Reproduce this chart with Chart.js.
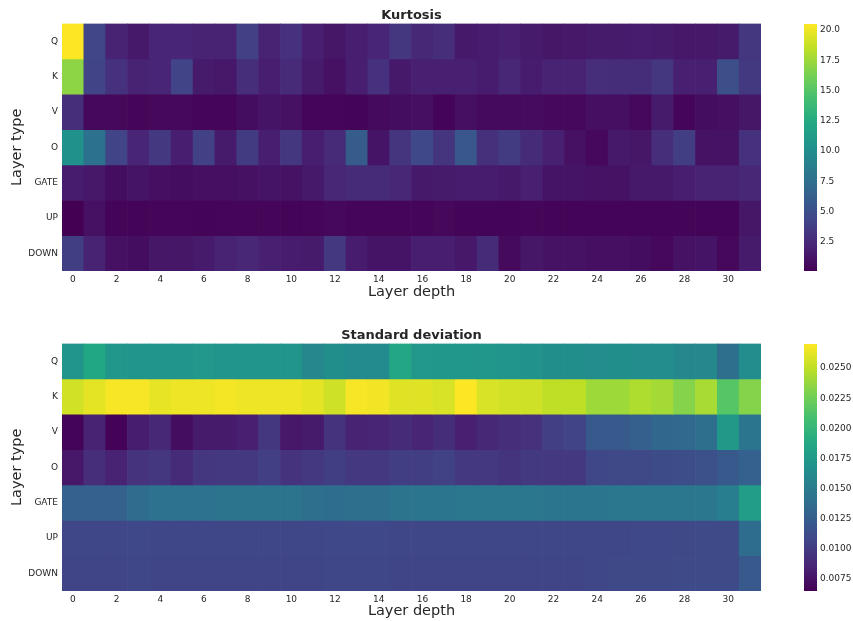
<!DOCTYPE html>
<html>
<head>
<meta charset="utf-8">
<script src="https://cdn.jsdelivr.net/npm/chart.js@4"></script>
<style>
  body { margin: 0; background: #fff; }
  #wrap { position: relative; width: 853px; height: 621px; }
  canvas { position: absolute; }
</style>
</head>
<body>
<div id="wrap">
  <canvas id="kurt" width="853" height="310" style="left:0;top:0;width:853px;height:310px"></canvas>
  <canvas id="kurtBar" width="63" height="310" style="left:790px;top:0;width:63px;height:310px"></canvas>
  <canvas id="std" width="853" height="311" style="left:0;top:310px;width:853px;height:311px"></canvas>
  <canvas id="stdBar" width="63" height="311" style="left:790px;top:310px;width:63px;height:311px"></canvas>
</div>
<script>
const layerTypes = ['Q', 'K', 'V', 'O', 'GATE', 'UP', 'DOWN'];
const layerDepth = Array.from({ length: 32 }, (_, i) => String(i));

// kurtosis, one array per layer type (depth 0..31)
const kurtQ    = [20.5, 4.3, 2.0, 1.5, 2.2, 2.2, 2.0, 2.0, 4.0, 2.0, 3.0, 1.8, 1.3, 1.8, 2.2, 3.3, 2.4, 2.8, 1.5, 1.7, 1.9, 1.6, 1.3, 1.4, 1.6, 1.6, 1.7, 1.6, 1.4, 1.4, 1.6, 3.3];
const kurtK    = [17.0, 4.2, 3.0, 2.0, 2.2, 4.2, 1.6, 1.4, 2.8, 1.8, 2.5, 1.6, 1.0, 1.8, 3.0, 1.5, 1.9, 1.9, 1.9, 1.7, 2.3, 1.7, 2.1, 2.1, 2.8, 2.7, 2.7, 3.3, 1.9, 1.9, 5.0, 3.5];
const kurtV    = [2.8, 0.5, 0.5, 0.4, 0.5, 0.5, 0.4, 0.4, 0.8, 1.2, 1.0, 0.4, 0.4, 0.3, 0.6, 0.8, 0.9, 0.3, 0.9, 0.6, 0.6, 0.7, 0.5, 0.5, 0.9, 0.9, 0.5, 1.6, 0.4, 0.8, 0.9, 1.3];
const kurtO    = [10.3, 7.8, 4.2, 2.2, 3.4, 1.8, 4.0, 1.6, 3.6, 1.8, 3.3, 1.8, 2.5, 6.0, 1.2, 3.2, 4.5, 3.2, 5.6, 2.9, 3.6, 2.6, 1.9, 1.0, 0.5, 1.5, 1.3, 2.8, 3.8, 1.1, 1.1, 3.0];
const kurtGate = [1.7, 1.4, 0.8, 1.2, 0.9, 0.8, 0.9, 0.9, 1.0, 1.2, 1.1, 1.5, 2.3, 2.6, 2.6, 2.3, 1.5, 1.6, 1.7, 1.7, 1.5, 1.9, 1.2, 1.2, 1.1, 1.1, 1.5, 1.5, 1.8, 2.0, 2.0, 2.3];
const kurtUp   = [0.1, 1.0, 0.3, 0.3, 0.4, 0.4, 0.3, 0.4, 0.4, 0.4, 0.3, 0.4, 0.5, 0.4, 0.4, 0.4, 0.4, 0.5, 0.3, 0.3, 0.3, 0.4, 0.3, 0.3, 0.3, 0.3, 0.3, 0.3, 0.3, 0.3, 0.3, 1.3];
const kurtDown = [3.8, 2.0, 1.0, 0.8, 1.3, 1.3, 1.6, 2.0, 2.3, 1.9, 1.7, 1.6, 3.4, 1.7, 1.2, 1.2, 1.8, 1.8, 1.4, 2.6, 0.6, 1.3, 1.1, 1.1, 0.9, 0.9, 0.8, 0.5, 1.1, 1.2, 0.5, 1.6];

// standard deviation
const stdQ    = [0.0170, 0.0187, 0.0172, 0.0170, 0.0170, 0.0170, 0.0174, 0.0170, 0.0170, 0.0170, 0.0170, 0.0160, 0.0165, 0.0162, 0.0162, 0.0186, 0.0174, 0.0172, 0.0172, 0.0172, 0.0170, 0.0168, 0.0165, 0.0165, 0.0163, 0.0165, 0.0163, 0.0163, 0.0160, 0.0160, 0.0140, 0.0163];
const stdK    = [0.0256, 0.0262, 0.0268, 0.0268, 0.0263, 0.0265, 0.0265, 0.0267, 0.0265, 0.0265, 0.0265, 0.0262, 0.0255, 0.0268, 0.0266, 0.0260, 0.0260, 0.0258, 0.0270, 0.0258, 0.0256, 0.0255, 0.0250, 0.0250, 0.0240, 0.0240, 0.0245, 0.0242, 0.0232, 0.0243, 0.0215, 0.0232];
const stdV    = [0.0067, 0.0085, 0.0066, 0.0082, 0.0088, 0.0072, 0.0080, 0.0080, 0.0083, 0.0097, 0.0078, 0.0080, 0.0095, 0.0085, 0.0086, 0.0090, 0.0086, 0.0091, 0.0083, 0.0088, 0.0092, 0.0094, 0.0103, 0.0106, 0.0122, 0.0122, 0.0127, 0.0133, 0.0134, 0.0140, 0.0175, 0.0145];
const stdO    = [0.0078, 0.0092, 0.0085, 0.0095, 0.0097, 0.0090, 0.0097, 0.0098, 0.0098, 0.0103, 0.0095, 0.0098, 0.0102, 0.0098, 0.0098, 0.0102, 0.0102, 0.0105, 0.0098, 0.0098, 0.0096, 0.0099, 0.0098, 0.0098, 0.0108, 0.0110, 0.0110, 0.0112, 0.0113, 0.0115, 0.0122, 0.0128];
const stdGate = [0.0128, 0.0128, 0.0128, 0.0137, 0.0142, 0.0142, 0.0142, 0.0143, 0.0143, 0.0143, 0.0143, 0.0140, 0.0138, 0.0140, 0.0140, 0.0143, 0.0145, 0.0145, 0.0146, 0.0146, 0.0146, 0.0146, 0.0145, 0.0145, 0.0145, 0.0146, 0.0146, 0.0146, 0.0146, 0.0146, 0.0152, 0.0178];
const stdUp   = [0.0108, 0.0108, 0.0108, 0.0109, 0.0108, 0.0108, 0.0108, 0.0108, 0.0108, 0.0108, 0.0108, 0.0108, 0.0109, 0.0109, 0.0109, 0.0108, 0.0108, 0.0108, 0.0108, 0.0108, 0.0108, 0.0108, 0.0108, 0.0108, 0.0108, 0.0108, 0.0109, 0.0109, 0.0110, 0.0111, 0.0111, 0.0138];
const stdDown = [0.0107, 0.0107, 0.0107, 0.0108, 0.0107, 0.0107, 0.0107, 0.0107, 0.0107, 0.0107, 0.0107, 0.0107, 0.0108, 0.0108, 0.0108, 0.0107, 0.0107, 0.0107, 0.0107, 0.0107, 0.0107, 0.0107, 0.0107, 0.0107, 0.0108, 0.0110, 0.0110, 0.0110, 0.0111, 0.0111, 0.0111, 0.0122];

const kurtTicks = [2.5, 5.0, 7.5, 10.0, 12.5, 15.0, 17.5, 20.0];
const stdTicks = [0.0075, 0.0100, 0.0125, 0.0150, 0.0175, 0.0200, 0.0225, 0.0250];

const kurtRows = [kurtQ, kurtK, kurtV, kurtO, kurtGate, kurtUp, kurtDown];
const stdRows = [stdQ, stdK, stdV, stdO, stdGate, stdUp, stdDown];

// viridis colour stops
const viridis = ['#440154', '#482475', '#414487', '#355f8d', '#2a788e', '#21918c', '#22a884', '#44bf70', '#7ad151', '#bddf26', '#fde725'];

function hexRgb(h) {
  return [parseInt(h.slice(1, 3), 16), parseInt(h.slice(3, 5), 16), parseInt(h.slice(5, 7), 16)];
}

function colorAt(f) {
  f = Math.max(0, Math.min(1, f));
  const p = f * (viridis.length - 1);
  const i = Math.min(Math.floor(p), viridis.length - 2);
  const t = p - i;
  const a = hexRgb(viridis[i]), b = hexRgb(viridis[i + 1]);
  const c = a.map((v, k) => Math.round(v + (b[k] - v) * t));
  return `rgb(${c[0]},${c[1]},${c[2]})`;
}

const textColor = '#262626';
const font = 'DejaVu Sans';
const noGrid = { display: false, drawTicks: false };

function heatmap(id, title, rows, vmin, vmax, padTop, padBottom, axisH) {
  const datasets = rows.map((vals, r) => ({
    data: vals.map(() => [r, r + 1]),
    backgroundColor: vals.map(v => colorAt((v - vmin) / (vmax - vmin))),
    borderWidth: 0,
    grouped: false,
    barPercentage: 1,
    categoryPercentage: 1
  }));

  new Chart(document.getElementById(id), {
    type: 'bar',
    data: { labels: layerDepth, datasets },
    options: {
      responsive: false,
      animation: false,
      layout: { padding: { left: 9, right: 92, top: padTop, bottom: padBottom } },
      plugins: {
        legend: { display: false },
        tooltip: { enabled: false },
        title: {
          display: true,
          text: title,
          fullSize: false,
          color: textColor,
          font: { family: font, size: 13, weight: 'bold' },
          padding: { top: 8, bottom: 0 }
        }
      },
      scales: {
        x: {
          grid: noGrid,
          border: { display: false },
          ticks: {
            autoSkip: false,
            maxRotation: 0,
            padding: 3,
            color: textColor,
            font: { family: font, size: 9 },
            callback: (v, i) => (i % 2 === 0 ? layerDepth[i] : '')
          },
          title: {
            display: true,
            text: 'Layer depth',
            color: textColor,
            font: { family: font, size: 14.5 },
            padding: { top: 0, bottom: 1 }
          },
          afterFit: s => { s.height = axisH; }
        },
        y: {
          type: 'linear',
          min: 0,
          max: layerTypes.length,
          reverse: true,
          grid: noGrid,
          border: { display: false },
          afterBuildTicks: s => { s.ticks = layerTypes.map((_, i) => ({ value: i + 0.5 })); },
          ticks: {
            padding: 4,
            color: textColor,
            font: { family: font, size: 9 },
            callback: (v, i) => layerTypes[i]
          },
          title: {
            display: true,
            text: 'Layer type',
            color: textColor,
            font: { family: font, size: 14.5 },
            padding: 0
          },
          afterFit: s => { s.width = 53; }
        }
      }
    }
  });
}

function colorbar(id, vmin, vmax, ticks, digits, padTop, padBottom) {
  new Chart(document.getElementById(id), {
    type: 'bar',
    data: {
      labels: [''],
      datasets: [{
        data: [[vmin, vmax]],
        borderWidth: 0,
        barPercentage: 1,
        categoryPercentage: 1,
        backgroundColor: ctx => {
          const a = ctx.chart.chartArea;
          if (!a) return null;
          const g = ctx.chart.ctx.createLinearGradient(0, a.bottom, 0, a.top);
          viridis.forEach((c, i) => g.addColorStop(i / (viridis.length - 1), c));
          return g;
        }
      }]
    },
    options: {
      responsive: false,
      animation: false,
      layout: { padding: { left: 14, right: 0, top: padTop, bottom: padBottom } },
      plugins: { legend: { display: false }, tooltip: { enabled: false } },
      scales: {
        x: { display: false },
        y: {
          position: 'right',
          min: vmin,
          max: vmax,
          grid: noGrid,
          border: { display: false },
          afterBuildTicks: s => { s.ticks = ticks.map(v => ({ value: v })); },
          ticks: {
            padding: 3,
            color: textColor,
            font: { family: font, size: 9 },
            callback: v => Number(v).toFixed(digits)
          },
          afterFit: s => { s.width = 36; }
        }
      }
    }
  });
}

heatmap('kurt', 'Kurtosis', kurtRows, 0.1, 20.5, 0, 8, 31);
colorbar('kurtBar', 0.1, 20.5, kurtTicks, 1, 24, 39);
heatmap('std', 'Standard deviation', stdRows, 0.0065, 0.0270, 10, 0, 30);
colorbar('stdBar', 0.0065, 0.0270, stdTicks, 4, 34, 30);
</script>
</body>
</html>
